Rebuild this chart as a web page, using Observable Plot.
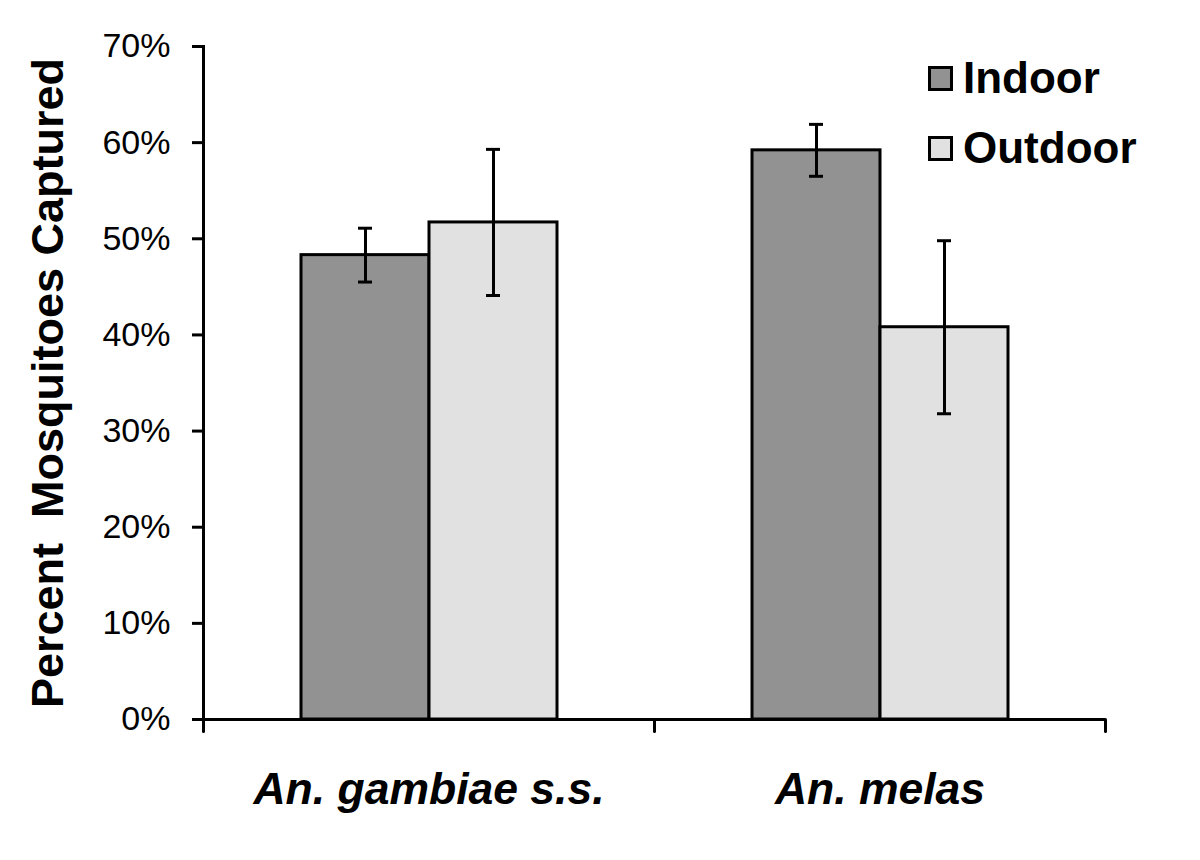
<!DOCTYPE html>
<html><head><meta charset="utf-8">
<script src="https://cdn.jsdelivr.net/npm/d3@7"></script>
<script src="https://cdn.jsdelivr.net/npm/@observablehq/plot@0.6"></script>
<style>
body{margin:0;background:#fff;}
#wrap{position:relative;width:1200px;height:860px;font-family:"Liberation Sans",Arial,sans-serif;color:#000;}
svg text{white-space:pre;}
.leg{position:absolute;left:928px;display:flex;align-items:center;font-weight:bold;font-size:44px;line-height:1;}
.sw{width:19px;height:19px;border:3px solid #000;margin-right:10px;}
</style></head><body><div id="wrap"></div>
<script>
const species = ["An. gambiae s.s.", "An. melas"];
const locations = ["Indoor", "Outdoor"];
const indoorPct = [48.3, 59.2];
const outdoorPct = [51.7, 40.8];
const indoorErr = [2.8, 2.7];
const outdoorErr = [7.6, 9.0];
const yTicks = [0, 10, 20, 30, 40, 50, 60, 70];
const colors = ["#929292", "#e1e1e1"];
const yLabel = "Percent  Mosquitoes Captured";

const rows = [];
species.forEach((s, i) => {
  rows.push({species: s, location: locations[0], value: indoorPct[i], err: indoorErr[i]});
  rows.push({species: s, location: locations[1], value: outdoorPct[i], err: outdoorErr[i]});
});

const tickShape = {draw(ctx, l) { ctx.moveTo(0, 0); ctx.lineTo(0, -l); }};

const chart = Plot.plot({
  width: 1200,
  height: 860,
  marginLeft: 203,
  marginRight: 95,
  marginTop: 46,
  marginBottom: 141,
  style: {fontFamily: '"Liberation Sans", Arial, sans-serif', color: "#000", background: "#fff"},
  fx: {domain: species, paddingInner: 0, paddingOuter: 0},
  x: {domain: locations, paddingInner: 0, paddingOuter: 0.755, axis: null},
  y: {domain: [0, 70]},
  color: {domain: locations, range: colors},
  marks: [
    Plot.barY(rows, {fx: "species", x: "location", y: "value", fill: "location", stroke: "#000", strokeWidth: 3}),
    Plot.ruleX(rows, {fx: "species", x: "location", y1: d => d.value - d.err, y2: d => d.value + d.err, stroke: "#000", strokeWidth: 3}),
    Plot.tickY(rows, {fx: "species", x: "location", y: d => d.value - d.err, stroke: "#000", strokeWidth: 3, insetLeft: 57, insetRight: 57}),
    Plot.tickY(rows, {fx: "species", x: "location", y: d => d.value + d.err, stroke: "#000", strokeWidth: 3, insetLeft: 57, insetRight: 57}),
    Plot.ruleY([0], {stroke: "#000", strokeWidth: 3}),
    Plot.frame({anchor: "left", facetAnchor: "left", stroke: "#000", strokeWidth: 3}),
    Plot.vector([0], {frameAnchor: "bottom-left", length: 12, rotate: 180, anchor: "start", shape: tickShape, stroke: "#000", strokeWidth: 3}),
    Plot.vector([0], {frameAnchor: "bottom-right", facetAnchor: "right", length: 12, rotate: 180, anchor: "start", shape: tickShape, stroke: "#000", strokeWidth: 3}),
    Plot.axisY({ticks: yTicks, tickFormat: d => d + "%", tickSize: 11, tickPadding: 22, fontSize: 34, strokeWidth: 3, label: null}),
    Plot.axisFx({anchor: "bottom", tickSize: 0, tickPadding: 53, fontSize: 44.5, fontWeight: "bold", fontStyle: "italic", label: null}),
    Plot.text([yLabel], {facetAnchor: "left", frameAnchor: "left", textAnchor: "middle", rotate: -90, dx: -155, fontSize: 45, fontWeight: "bold", fill: "#000"})
  ]
});
const wrap = document.getElementById("wrap");
wrap.appendChild(chart);
locations.forEach((loc, i) => {
  const d = document.createElement("div");
  d.className = "leg";
  d.style.top = (i === 0 ? 56 : 126) + "px";
  const sw = document.createElement("div");
  sw.className = "sw";
  sw.style.background = colors[i];
  const t = document.createElement("span");
  t.textContent = loc;
  d.appendChild(sw); d.appendChild(t);
  wrap.appendChild(d);
});
</script></body></html>
